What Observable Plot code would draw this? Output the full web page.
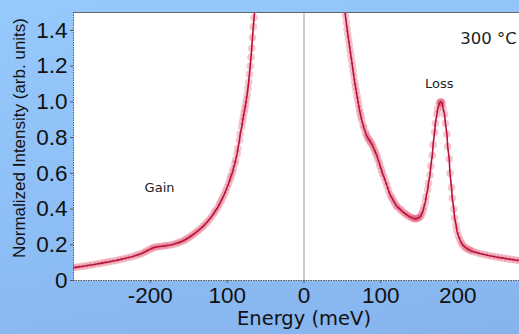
<!DOCTYPE html>
<html>
<head>
<meta charset="utf-8">
<script src="https://cdn.jsdelivr.net/npm/d3@7"></script>
<script src="https://cdn.jsdelivr.net/npm/@observablehq/plot@0.6"></script>
<style>
html, body { margin: 0; padding: 0; overflow: hidden; width: 519px; height: 334px; }
body { background: linear-gradient(170deg, #96c9fc 0%, #8dbdf5 60%, #86b3ed 100%); }
#chart { width: 540px; }
#chart svg { display: block; background: transparent; overflow: visible; max-width: none !important; }
</style>
</head>
<body>
<div id="chart"></div>
<script>
// Gain branch (negative energy)
const gainEnergy = [-300,-295,-290,-285,-280,-275,-270,-265,-260,-255,-250,-245,-240,-235,-230,-225,-220,-216,-212,-208,-205,-201,-198,-195,-192,-188,-185,-181,-178,-174,-170,-166,-163,-159,-156,-153,-150,-147,-144,-141,-138,-135,-132,-129,-126,-123,-120,-117,-115,-112,-110,-108,-106,-104,-102,-100,-98,-96,-95,-93,-92,-90,-89,-87,-86,-84,-83,-81,-80,-79,-78,-77,-76,-75,-74,-73,-72,-71,-70,-69,-68,-67,-66,-65,-64];
const gainIntensity = [0.072,0.075,0.078,0.081,0.085,0.088,0.092,0.096,0.100,0.104,0.108,0.112,0.117,0.122,0.127,0.132,0.138,0.144,0.150,0.158,0.165,0.173,0.180,0.185,0.188,0.190,0.192,0.194,0.196,0.199,0.203,0.208,0.212,0.218,0.225,0.232,0.240,0.249,0.258,0.268,0.278,0.289,0.300,0.313,0.327,0.343,0.360,0.378,0.392,0.410,0.428,0.445,0.462,0.480,0.500,0.522,0.545,0.568,0.585,0.605,0.625,0.655,0.675,0.710,0.740,0.785,0.820,0.860,0.890,0.915,0.940,0.962,0.985,1.012,1.040,1.075,1.110,1.155,1.200,1.250,1.300,1.360,1.420,1.470,1.520];
// Loss branch (positive energy)
const lossEnergy = [52,53,54,55,56,57,58,59,60,61,62,63,64,65,66,67,68,69,70,71,72,73,74,75,77,78,80,81,83,84,86,87,89,90,92,93,95,96,98,99,101,102,104,106,108,110,112,114,116,118,120,122,125,127,130,132,135,137,140,142,144,146,148,150,152,153,155,156,158,159,161,162,164,165,167,168,170,171,173,174,176,177,178,179,180,181,183,184,186,187,189,190,192,193,195,196,198,199,201,203,205,207,210,212,215,217,220,225,230,235,240,245,250,255,260,265,270,275,280,285,290,295,300];
const lossIntensity = [1.55,1.515,1.48,1.445,1.41,1.38,1.35,1.32,1.29,1.26,1.23,1.20,1.17,1.14,1.11,1.085,1.06,1.035,1.01,0.985,0.96,0.94,0.92,0.90,0.87,0.855,0.83,0.815,0.80,0.79,0.78,0.77,0.76,0.745,0.73,0.715,0.70,0.68,0.66,0.64,0.62,0.60,0.58,0.555,0.53,0.505,0.48,0.465,0.45,0.435,0.42,0.41,0.40,0.39,0.38,0.372,0.365,0.358,0.352,0.348,0.345,0.345,0.348,0.352,0.36,0.372,0.39,0.41,0.44,0.47,0.51,0.545,0.59,0.64,0.70,0.76,0.83,0.88,0.93,0.96,0.99,0.997,1.00,0.997,0.99,0.965,0.93,0.88,0.82,0.75,0.68,0.60,0.52,0.46,0.40,0.35,0.31,0.28,0.25,0.228,0.21,0.196,0.185,0.178,0.172,0.167,0.162,0.156,0.150,0.145,0.140,0.136,0.132,0.128,0.125,0.121,0.118,0.115,0.112,0.110,0.107,0.105,0.102];

const xTicks = [-200,-100,0,100,200];
const xTickLabels = ["-200","100","0","100","200"];
const yTicks = [0,0.2,0.4,0.6,0.8,1.0,1.2,1.4];
const yTickLabels = ["0","0.2","0.4","0.6","0.8","1.0","1.2","1.4"];

const annotations = [
  {x: -188, y: 0.52, text: "Gain", size: 13},
  {x: 176, y: 1.10, text: "Loss", size: 13},
  {x: 240, y: 1.355, text: "300 °C", size: 16.5}
];

const data = [
  ...gainEnergy.map((e, i) => ({energy: e, intensity: gainIntensity[i], branch: "gain"})),
  ...lossEnergy.map((e, i) => ({energy: e, intensity: lossIntensity[i], branch: "loss"}))
];

const fmtX = (d) => xTickLabels[xTicks.indexOf(d)];
const fmtY = (d) => yTickLabels[yTicks.findIndex(t => Math.abs(t - d) < 1e-9)];

const plot = Plot.plot({
  width: 540,
  height: 334,
  marginLeft: 73,
  marginTop: 12,
  marginBottom: 54,
  marginRight: 6,
  style: {fontFamily: "'Liberation Sans', Arial, sans-serif", color: "#111", background: "transparent", maxWidth: "none"},
  x: {domain: [-300, 300], ticks: xTicks, tickFormat: fmtX},
  y: {domain: [0, 1.5], ticks: yTicks, tickFormat: fmtY},
  marks: [
    Plot.frame({fill: "white", stroke: "none"}),
    Plot.ruleX([0], {stroke: "#bbbbbb", strokeWidth: 1.5}),
    Plot.dot(data, {x: "energy", y: "intensity", r: 3.8, fill: "#e2536d", fillOpacity: 0.33, stroke: "none", clip: true}),
    Plot.line(data, {x: "energy", y: "intensity", z: "branch", stroke: "#b8123c", strokeWidth: 1.6, clip: true}),
    Plot.text(annotations, {x: "x", y: "y", text: "text", fontSize: d => d.size, fill: "#222", fontFamily: "'DejaVu Sans', sans-serif"}),
    Plot.ruleY([1.5], {stroke: "#666", strokeWidth: 1}),
    Plot.ruleX([-300], {stroke: "#555", strokeWidth: 1, strokeDasharray: "1.5,1"}),
    Plot.ruleY([0], {stroke: "#555", strokeWidth: 1, strokeDasharray: "1.5,1"}),
    Plot.axisX({ticks: xTicks, tickFormat: fmtX, tickSize: 3, tickPadding: 4, fontSize: 22.5, label: null, stroke: "#555"}),
    Plot.axisY({ticks: yTicks, tickFormat: fmtY, tickSize: 3, tickPadding: 3, fontSize: 22.5, label: null, stroke: "#555"}),
    Plot.text(["Energy (meV)"], {frameAnchor: "bottom", dy: 44, fontSize: 19.5, fill: "#111", fontFamily: "'DejaVu Sans', sans-serif"}),
    Plot.text(["Normalized Intensity (arb. units)"], {frameAnchor: "left", textAnchor: "middle", dx: -54, dy: -8.5, rotate: -90, fontSize: 17, fill: "#111"})
  ]
});
document.getElementById("chart").appendChild(plot);
</script>
</body>
</html>
